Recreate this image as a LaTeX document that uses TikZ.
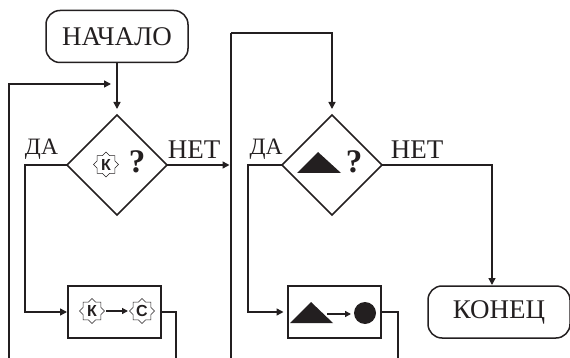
\documentclass[tikz,border=0pt]{standalone}
\usepackage{fontspec}
\setmainfont{Liberation Serif}
\newfontfamily\starfont{Liberation Sans}
\usetikzlibrary{shapes.geometric,arrows.meta}
\definecolor{ink}{HTML}{231F20}
\tikzset{
  flow/.style={draw=ink,line width=1.5pt,-{Triangle[length=7pt,width=7pt]},shorten >=0pt},
  wire/.style={draw=ink,line width=1.5pt},
  term/.style={draw=ink,line width=1.5pt,rounded corners=14pt,minimum width=142pt,minimum height=52pt,inner sep=0pt,outer sep=0pt,text=ink,font=\fontsize{27}{28}\selectfont},
  actbox/.style={draw=ink,line width=1.5pt,minimum width=93pt,minimum height=52pt,inner sep=0pt,outer sep=0pt},
  cond/.style={diamond,draw=ink,line width=1.5pt,minimum width=100pt,minimum height=100pt,aspect=1,inner sep=0pt,outer sep=0pt},
  lblda/.style={anchor=base,inner sep=0pt,text=ink,font=\fontsize{23.5}{24}\selectfont},
  lblnet/.style={anchor=base,inner sep=0pt,text=ink,font=\fontsize{27}{28}\selectfont},
  qmark/.style={anchor=base,inner sep=0pt,text=ink,font=\fontsize{33}{34}\selectfont\bfseries},
  starry/.style={star,star points=8,star point ratio=1.3,draw=ink,line width=0.6pt,minimum size=25pt,inner sep=0pt,outer sep=0pt,
    label={[inner sep=0pt,text=ink,font=\starfont\fontsize{16}{16}\selectfont\bfseries]center:#1}},
  inarrow/.style={draw=ink,line width=1.3pt,-{Triangle[length=6pt,width=6pt]}},
  dot/.style={circle,fill=ink,minimum size=22pt,inner sep=0pt,outer sep=0pt}
}
\begin{document}
\begin{tikzpicture}[x=1pt,y=-1pt]
\useasboundingbox (0,0) rectangle (570,358);
\clip (0,0) rectangle (570,358);
% terminals
\node[term] (start) at (117,36.5) {НАЧАЛО};
\node[term] (finish) at (499,312) {КОНЕЦ};
% decisions
\node[cond] (d1) at (117,165) {};
\node[cond] (d2) at (332,165) {};
% actions
\node[actbox] (a1) at (114.5,312) {};
\node[actbox] (a2) at (334.5,312) {};
% free ends
\coordinate (loopA) at (9,358);
\coordinate (joinA) at (111,84);
\coordinate (d1in) at (117,109);
\coordinate (d2in) at (332,109);
\coordinate (loopB) at (231,358);
\coordinate (loopBtop) at (231,33);
\coordinate (netA) at (229.5,165);
\coordinate (outA) at (176,358);
\coordinate (outB) at (398,358);
\coordinate (a1in) at (67,312);
\coordinate (a2in) at (283.5,312);
\coordinate (finin) at (492,285);
\coordinate (daA) at (25,165);
\coordinate (daB) at (248,165);
% connectors
\draw[flow] (start.south) -- (d1in);
\draw[flow] (loopA) |- (joinA);
\draw[flow] (d1.east) -- (netA);
\draw[wire] (loopB) -- (loopBtop);
\draw[flow] (loopBtop) -| (d2in);
\draw[flow] (d1.west) -- (daA) |- (a1in);
\draw[flow] (d2.west) -- (daB) |- (a2in);
\draw[wire] (a1.east) -| (outA);
\draw[wire] (a2.east) -| (outB);
\draw[flow] (d2.east) -| (finin);
% labels
\node[lblda] (l1) at (41.5,155) {ДА};
\node[lblnet] (l2) at (194,159) {НЕТ};
\node[lblda] (l3) at (266,155) {ДА};
\node[lblnet] (l4) at (417,159) {НЕТ};
% first decision contents
\node[starry=К] (s0) at (106,164.5) {};
\node[qmark] (q1) at (137,173) {?};
% first action contents
\node[starry=К] (s1) at (92,311) {};
\node[starry=С] (s2) at (142,311) {};
\draw[inarrow] (106,311) -- (128,311);
% second decision contents
\fill[ink] (318,152) -- (341,173) -- (297,173) -- cycle;
\node[qmark] (q2) at (354,173) {?};
% second action contents
\fill[ink] (311,302) -- (333,323) -- (290,323) -- cycle;
\node[dot] (c1) at (365,313) {};
\coordinate (tri) at (327,314);
\coordinate (cin) at (351,314);
\draw[inarrow] (tri) -- (cin);
\end{tikzpicture}
\end{document}
